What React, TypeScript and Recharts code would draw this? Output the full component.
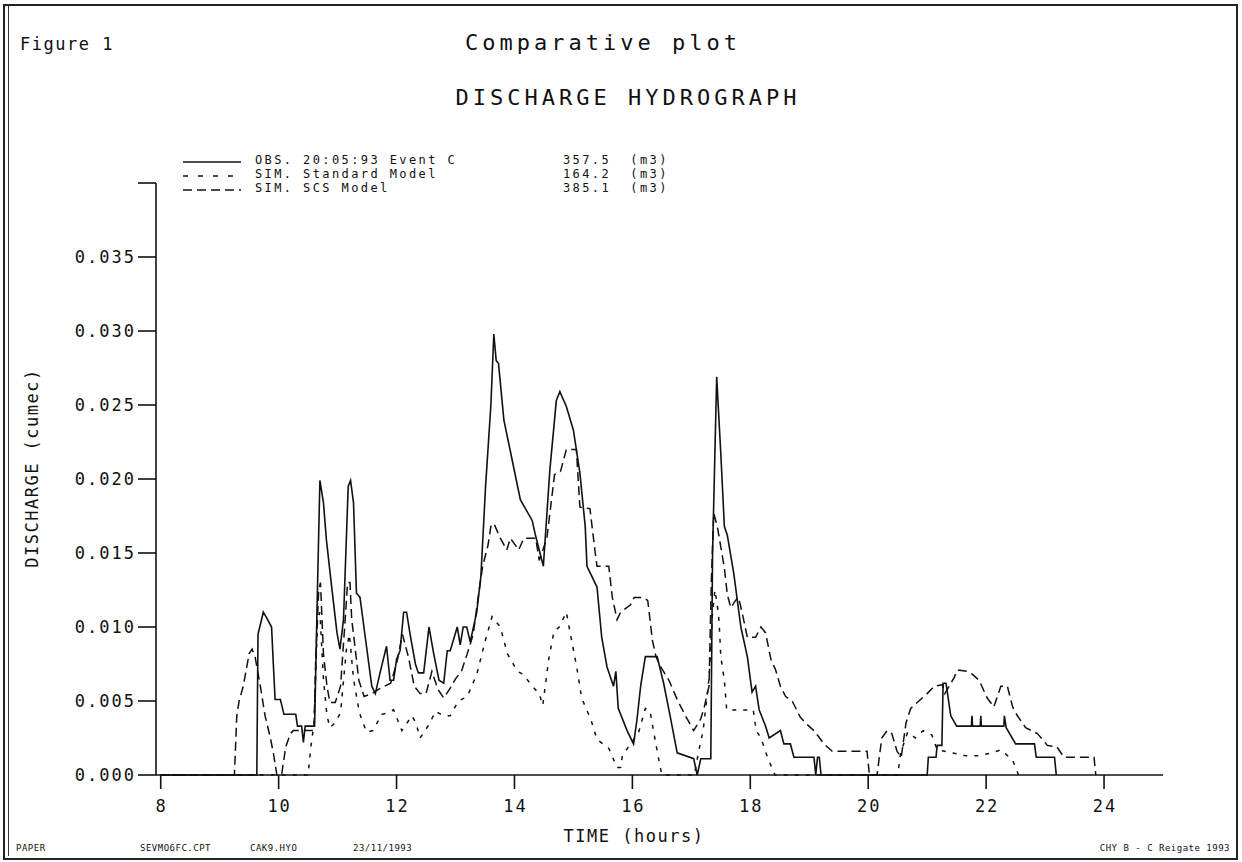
import React from 'react'
import { LineChart, Line, XAxis, YAxis } from 'recharts'

// observed hydrograph, 20:05:93 event C
const obsHours = [8.0, 9.6, 9.63, 9.65, 9.68, 9.74, 9.8, 9.88, 9.91, 9.94, 10.03, 10.09, 10.29, 10.32, 10.39, 10.42, 10.45, 10.61, 10.65, 10.7, 10.76, 10.81, 10.9, 10.99, 11.04, 11.1, 11.18, 11.22, 11.27, 11.32, 11.38, 11.49, 11.58, 11.64, 11.72, 11.83, 11.89, 11.95, 12.0, 12.06, 12.12, 12.17, 12.23, 12.32, 12.37, 12.46, 12.55, 12.63, 12.72, 12.8, 12.86, 12.91, 13.03, 13.08, 13.13, 13.19, 13.25, 13.36, 13.43, 13.51, 13.6, 13.65, 13.69, 13.73, 13.82, 13.96, 14.1, 14.3, 14.35, 14.49, 14.6, 14.71, 14.77, 14.88, 15.0, 15.11, 15.2, 15.23, 15.4, 15.48, 15.57, 15.68, 15.72, 15.76, 15.91, 16.02, 16.08, 16.14, 16.22, 16.42, 16.53, 16.64, 16.76, 17.04, 17.1, 17.16, 17.33, 17.36, 17.43, 17.5, 17.56, 17.61, 17.72, 17.84, 17.95, 18.03, 18.09, 18.15, 18.26, 18.32, 18.51, 18.57, 18.68, 18.74, 19.08, 19.11, 19.14, 19.17, 19.2, 21.0, 21.02, 21.15, 21.17, 21.25, 21.27, 21.32, 21.4, 21.5, 21.75, 21.76, 21.77, 21.9, 21.91, 21.92, 22.3, 22.31, 22.34, 22.5, 22.82, 22.85, 23.16, 23.19]
const obsFlow = [0, 0, 0, 0.0095, 0.01, 0.011, 0.0106, 0.01, 0.0075, 0.0051, 0.0051, 0.0041, 0.0041, 0.0033, 0.0033, 0.0022, 0.0033, 0.0033, 0.011, 0.0199, 0.0184, 0.0159, 0.0127, 0.0096, 0.0085, 0.0105, 0.0195, 0.0199, 0.0184, 0.0123, 0.012, 0.0087, 0.006, 0.0055, 0.0069, 0.0087, 0.0064, 0.0064, 0.0078, 0.0084, 0.011, 0.011, 0.0095, 0.0075, 0.0069, 0.0069, 0.01, 0.0082, 0.0064, 0.0062, 0.0084, 0.0084, 0.01, 0.0088, 0.01, 0.01, 0.009, 0.011, 0.0134, 0.0195, 0.025, 0.0298, 0.028, 0.0278, 0.024, 0.0213, 0.0186, 0.0172, 0.0163, 0.0141, 0.0206, 0.0253, 0.0259, 0.0249, 0.0233, 0.0204, 0.0168, 0.0141, 0.0127, 0.0093, 0.0073, 0.006, 0.007, 0.0045, 0.003, 0.0021, 0.0038, 0.006, 0.008, 0.008, 0.0062, 0.004, 0.0015, 0.0011, 0, 0.0011, 0.0011, 0.015, 0.0269, 0.0217, 0.0168, 0.0162, 0.0136, 0.01, 0.008, 0.0056, 0.006, 0.0044, 0.0033, 0.0025, 0.003, 0.0021, 0.0021, 0.0012, 0.0012, 0, 0.0012, 0.0012, 0, 0, 0.0012, 0.0012, 0.002, 0.002, 0.0062, 0.0062, 0.004, 0.0033, 0.0033, 0.004, 0.0033, 0.0033, 0.004, 0.0033, 0.0033, 0.004, 0.0032, 0.0021, 0.0021, 0.0012, 0.0012, 0]

// simulated, standard model
const stdHours = [8.0, 10.5, 10.55, 10.6, 10.66, 10.7, 10.76, 10.82, 10.87, 10.95, 11.05, 11.15, 11.2, 11.27, 11.37, 11.49, 11.6, 11.75, 11.85, 11.95, 12.09, 12.26, 12.33, 12.4, 12.55, 12.66, 12.8, 12.91, 13.05, 13.2, 13.36, 13.5, 13.62, 13.76, 13.88, 14.05, 14.15, 14.3, 14.42, 14.48, 14.58, 14.67, 14.76, 14.88, 14.95, 15.06, 15.14, 15.3, 15.4, 15.6, 15.74, 15.8, 15.83, 15.95, 16.1, 16.22, 16.3, 16.38, 16.45, 16.5, 17.05, 17.12, 17.2, 17.3, 17.36, 17.4, 17.44, 17.47, 17.5, 17.56, 17.6, 18.05, 18.1, 18.18, 18.3, 18.42, 20.5, 20.55, 20.67, 20.8, 20.93, 21.08, 21.17, 21.42, 21.65, 21.87, 22.1, 22.25, 22.45, 22.55]
const stdFlow = [0, 0, 0.002, 0.0035, 0.0105, 0.011, 0.0065, 0.004, 0.0032, 0.0035, 0.0042, 0.0085, 0.0095, 0.0065, 0.0042, 0.0029, 0.003, 0.0041, 0.0042, 0.0044, 0.003, 0.004, 0.0035, 0.0025, 0.0034, 0.0043, 0.004, 0.004, 0.005, 0.0053, 0.0068, 0.009, 0.0107, 0.01, 0.0082, 0.007, 0.0068, 0.006, 0.0055, 0.0047, 0.0078, 0.0097, 0.01, 0.011, 0.0095, 0.0072, 0.0052, 0.0037, 0.0024, 0.0018, 0.0005, 0.0005, 0.0013, 0.002, 0.0028, 0.0045, 0.0043, 0.0025, 0.001, 0, 0, 0.0015, 0.003, 0.0065, 0.011, 0.0125, 0.0115, 0.0104, 0.008, 0.0064, 0.0044, 0.0044, 0.003, 0.0025, 0.0011, 0, 0, 0.0015, 0.0029, 0.0025, 0.003, 0.0027, 0.0017, 0.0015, 0.0013, 0.0013, 0.0015, 0.0017, 0.001, 0]

// simulated, SCS model
const scsHours = [8.0, 9.25, 9.29, 9.33, 9.4, 9.5, 9.55, 9.6, 9.69, 9.77, 9.86, 9.91, 9.97, 10.05, 10.12, 10.2, 10.25, 10.6, 10.63, 10.68, 10.71, 10.76, 10.82, 10.87, 10.96, 11.05, 11.12, 11.17, 11.21, 11.24, 11.3, 11.36, 11.45, 11.58, 11.7, 11.8, 11.9, 12.0, 12.1, 12.2, 12.3, 12.4, 12.5, 12.6, 12.7, 12.8, 12.9, 13.0, 13.1, 13.2, 13.3, 13.37, 13.46, 13.55, 13.6, 13.65, 13.76, 13.87, 13.93, 14.02, 14.07, 14.16, 14.36, 14.42, 14.55, 14.68, 14.78, 14.88, 15.05, 15.11, 15.28, 15.37, 15.4, 15.6, 15.66, 15.74, 15.8, 15.97, 16.03, 16.17, 16.26, 16.34, 16.4, 16.48, 16.62, 16.76, 16.9, 17.04, 17.16, 17.22, 17.3, 17.34, 17.38, 17.44, 17.5, 17.56, 17.61, 17.67, 17.75, 17.8, 17.86, 17.95, 18.09, 18.18, 18.26, 18.35, 18.43, 18.51, 18.6, 18.71, 18.85, 18.94, 19.08, 19.25, 19.39, 19.98, 20.02, 20.15, 20.23, 20.32, 20.4, 20.49, 20.56, 20.64, 20.72, 20.86, 21.0, 21.12, 21.26, 21.3, 21.4, 21.46, 21.51, 21.68, 21.77, 21.88, 22.02, 22.13, 22.25, 22.36, 22.45, 22.53, 22.67, 22.87, 23.04, 23.2, 23.32, 23.83, 23.86]
const scsFlow = [0, 0, 0.004, 0.005, 0.006, 0.0082, 0.0085, 0.008, 0.006, 0.004, 0.0025, 0.0015, 0, 0, 0.0019, 0.0028, 0.003, 0.003, 0.008, 0.0125, 0.013, 0.0082, 0.006, 0.0049, 0.0049, 0.006, 0.01, 0.013, 0.013, 0.0105, 0.0085, 0.0064, 0.0053, 0.0055, 0.0058, 0.006, 0.0062, 0.0075, 0.0095, 0.008, 0.006, 0.0055, 0.0055, 0.007, 0.0058, 0.0052, 0.0058, 0.0065, 0.007, 0.0082, 0.0095, 0.0116, 0.0141, 0.0155, 0.0168, 0.017, 0.016, 0.0152, 0.016, 0.0155, 0.0152, 0.016, 0.016, 0.0145, 0.016, 0.0203, 0.0205, 0.022, 0.022, 0.0181, 0.018, 0.015, 0.0141, 0.0141, 0.012, 0.0105, 0.011, 0.0115, 0.012, 0.012, 0.0118, 0.0091, 0.008, 0.0073, 0.0064, 0.0051, 0.004, 0.003, 0.0038, 0.0046, 0.006, 0.0132, 0.0177, 0.0168, 0.0154, 0.014, 0.0122, 0.0113, 0.0118, 0.012, 0.011, 0.0093, 0.0093, 0.01, 0.0096, 0.0078, 0.0071, 0.006, 0.0053, 0.005, 0.0039, 0.0035, 0.003, 0.0021, 0.0016, 0.0016, 0, 0, 0.0025, 0.003, 0.0028, 0.0016, 0.0012, 0.0035, 0.0045, 0.005, 0.0055, 0.006, 0.0061, 0.0055, 0.0062, 0.0066, 0.0071, 0.007, 0.0068, 0.0064, 0.0052, 0.0046, 0.006, 0.006, 0.0046, 0.004, 0.0032, 0.0028, 0.002, 0.0019, 0.0012, 0.0012, 0]

const timeTicks = [8, 10, 12, 14, 16, 18, 20, 22, 24]
const flowTicks = [0, 0.005, 0.01, 0.015, 0.02, 0.025, 0.03, 0.035, 0.04]

const legendRows = [
  { label: 'OBS. 20:05:93 Event C', volume: '357.5', dash: undefined },
  { label: 'SIM. Standard Model', volume: '164.2', dash: '5 10' },
  { label: 'SIM. SCS Model', volume: '385.1', dash: '9 5' },
]

const footLeft = ['PAPER', 'SEVMO6FC.CPT', 'CAK9.HYO', '23/11/1993']

const mono = '"DejaVu Sans Mono", "Liberation Mono", monospace'
const ink = '#111'

const zip = (hours: number[], flow: number[]) => hours.map((t, i) => ({ t, q: flow[i] }))

function FlowTick({ x, y, payload }: any) {
  if (payload.value > 0.036) return null
  return (
    <text x={x} y={y} textAnchor="end" dominantBaseline="central" fontFamily={mono} fontSize={17} fill={ink} style={{ letterSpacing: 2 }}>
      {payload.value.toFixed(3)}
    </text>
  )
}

function TimeTick({ x, y, payload }: any) {
  return (
    <text x={x + 1} y={y} textAnchor="middle" dy="0.71em" fontFamily={mono} fontSize={17} fill={ink} style={{ letterSpacing: 2 }}>
      {payload.value}
    </text>
  )
}

export default function App() {
  const obs = zip(obsHours, obsFlow)
  const std = zip(stdHours, stdFlow)
  const scs = zip(scsHours, scsFlow)

  return (
    <div style={{ position: 'absolute', left: 0, top: 0, width: 1242, height: 862, background: 'white', overflow: 'hidden', fontFamily: mono, color: ink }}>
      {/* scanned page frame */}
      <div style={{ position: 'absolute', left: 3, top: 4, width: 1231, height: 852, border: '2px solid #222' }} />
      <div style={{ position: 'absolute', left: 8, top: 6, width: 1, height: 850, background: '#333' }} />

      <div style={{ position: 'absolute', left: 20, top: 34, fontSize: 17, letterSpacing: 1.5 }}>Figure 1</div>
      <div style={{ position: 'absolute', left: 603, top: 30, transform: 'translateX(-50%)', fontSize: 22, letterSpacing: 4, whiteSpace: 'nowrap' }}>
        Comparative plot
      </div>
      <div style={{ position: 'absolute', left: 628, top: 85, transform: 'translateX(-50%)', fontSize: 22, letterSpacing: 4, whiteSpace: 'nowrap' }}>
        DISCHARGE HYDROGRAPH
      </div>

      {legendRows.map((row, i) => (
        <div key={i} style={{ position: 'absolute', left: 183, top: 153 + i * 14, width: 520, height: 14, fontSize: 12, letterSpacing: 2.4, whiteSpace: 'pre', lineHeight: '14px' }}>
          <svg width={58} height={14} style={{ position: 'absolute', left: 0, top: 0 }}>
            <line x1={0} x2={58} y1={9} y2={9} stroke={ink} strokeWidth={1.6} strokeDasharray={row.dash} />
          </svg>
          <span style={{ position: 'absolute', left: 72, top: 0 }}>{row.label}</span>
          <span style={{ position: 'absolute', left: 380, top: 0 }}>{row.volume + '  (m3)'}</span>
        </div>
      ))}

      <div style={{ position: 'absolute', left: 32, top: 468, transform: 'translate(-50%, -50%) rotate(-90deg)', fontSize: 17, letterSpacing: 1.5, whiteSpace: 'nowrap' }}>
        DISCHARGE (cumec)
      </div>
      <div style={{ position: 'absolute', left: 634, top: 826, transform: 'translateX(-50%)', fontSize: 17, letterSpacing: 1.5, whiteSpace: 'nowrap' }}>
        TIME (hours)
      </div>

      {footLeft.map((s, i) => (
        <div key={s} style={{ position: 'absolute', left: [16, 140, 250, 353][i], top: 843, fontSize: 9, letterSpacing: 0.5, whiteSpace: 'nowrap' }}>{s}</div>
      ))}
      <div style={{ position: 'absolute', right: 12, top: 843, fontSize: 9, letterSpacing: 0.5, whiteSpace: 'nowrap' }}>CHY B - C Reigate 1993</div>

      <div style={{ position: 'absolute', left: 0, top: 0 }}>
        <LineChart width={1242} height={862} margin={{ top: 183, right: 79, bottom: 62, left: 96 }}>
          <XAxis
            dataKey="t"
            type="number"
            domain={[7.92, 25]}
            ticks={timeTicks}
            allowDataOverflow
            height={25}
            stroke={ink}
            strokeWidth={1.6}
            tickSize={14}
            tickMargin={11}
            tick={<TimeTick />}
          />
          <YAxis
            type="number"
            domain={[0, 0.04]}
            ticks={flowTicks}
            width={60}
            stroke={ink}
            strokeWidth={1.6}
            tickSize={18}
            tickMargin={2}
            tick={<FlowTick />}
          />
          <Line data={scs} dataKey="q" type="linear" stroke={ink} strokeWidth={1.5} strokeDasharray="9 5" dot={false} isAnimationActive={false} />
          <Line data={std} dataKey="q" type="linear" stroke={ink} strokeWidth={1.5} strokeDasharray="4 7" dot={false} isAnimationActive={false} />
          <Line data={obs} dataKey="q" type="linear" stroke={ink} strokeWidth={1.6} dot={false} isAnimationActive={false} />
        </LineChart>
      </div>
    </div>
  )
}
